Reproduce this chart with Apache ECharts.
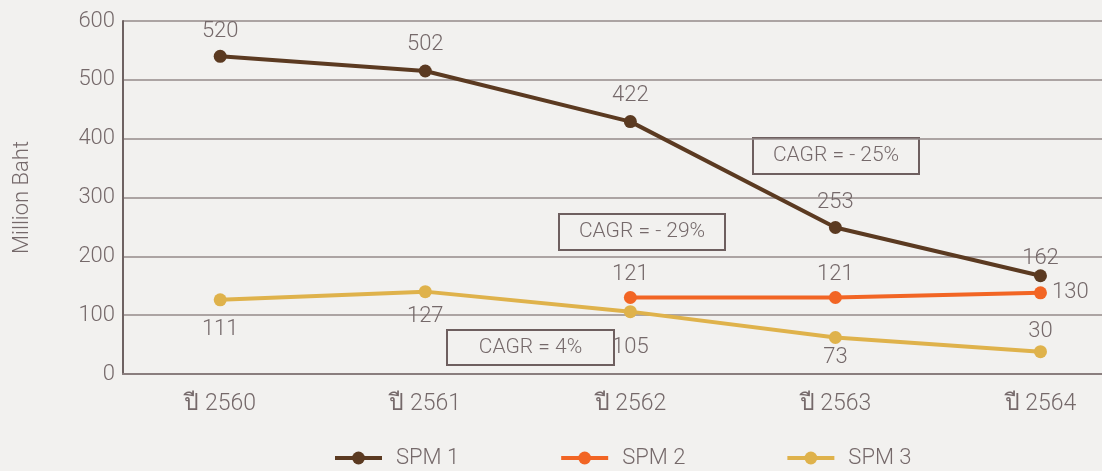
<!DOCTYPE html>
<html>
<head>
<meta charset="utf-8">
<script src="https://cdn.jsdelivr.net/npm/echarts@6/dist/echarts.min.js"></script>
<style>
  html, body { margin: 0; padding: 0; background: #f2f1ef; }
  #chart { width: 1102px; height: 471px; }
</style>
</head>
<body>
<div id="chart"></div>
<script>
// 年份
const years = ['ปี 2560', 'ปี 2561', 'ปี 2562', 'ปี 2563', 'ปี 2564']
const seriesNames = ['SPM 1', 'SPM 2', 'SPM 3']

// plotted values (read from point positions)
const spm1 = [540, 515, 429, 249, 167]
const spm2 = [null, null, 130, 130, 138]
const spm3 = [126, 140, 106, 62, 38]

// printed labels
const spm1Labels = ['520', '502', '422', '253', '162']
const spm2Labels = ['', '', '121', '121', '130']
const spm3Labels = ['111', '127', '105', '73', '30']

const yTicks = [0, 100, 200, 300, 400, 500, 600]

const txt = '#75696a'
const font = 'Roboto, "Noto Sans", "DejaVu Sans", sans-serif'
const colors = ['#5b3a21', '#f26524', '#dfb24b']

function points(vals, labels, placement) {
  return vals.map((v, i) => ({
    value: [i, v],
    label: Object.assign({ formatter: labels[i] }, placement[i])
  }))
}

const chart = echarts.init(document.getElementById('chart'))

function cagrBox(x, y, w, h, text) {
  return {
    type: 'group', left: x, top: y,
    children: [
      { type: 'rect', shape: { x: 0, y: 0, width: w, height: h },
        style: { fill: 'transparent', stroke: '#6e5f5f', lineWidth: 2 } },
      { type: 'text', x: w / 2, y: h / 2,
        style: { text: text, fill: txt, font: '300 21px ' + font, align: 'center', verticalAlign: 'middle' } }
    ]
  }
}

const lbl = { show: true, color: txt, fontSize: 22, fontWeight: 300 }

chart.setOption({
  backgroundColor: '#f2f1ef',
  animation: false,
  color: colors,
  textStyle: { fontFamily: font },
  grid: { left: 123, right: 0, top: 21, bottom: 97 },
  legend: {
    bottom: -3,
    left: 328,
    itemWidth: 47,
    itemHeight: 16,
    itemGap: 100,
    lineStyle: { width: 4 },
    textStyle: { color: txt, fontSize: 22, fontWeight: 300, fontFamily: font, padding: [0, 0, 0, 9] },
    data: seriesNames
  },
  xAxis: {
    type: 'value',
    min: -0.474,
    max: 4.3,
    splitLine: { show: false },
    axisTick: { show: false },
    axisLine: { show: true, onZero: false, lineStyle: { color: '#8a7e7e', width: 2 } },
    axisLabel: {
      customValues: [0, 1, 2, 3, 4],
      formatter: v => years[Math.round(v)],
      color: txt, fontSize: 23, fontWeight: 300, margin: 19
    }
  },
  yAxis: {
    type: 'value',
    min: 0, max: 600, interval: 100,
    name: 'Million Baht',
    nameLocation: 'middle',
    nameGap: 90,
    nameTextStyle: { color: txt, fontSize: 22, fontWeight: 300 },
    axisLine: { show: true, onZero: false, lineStyle: { color: '#6e6262', width: 2 } },
    axisTick: { show: false },
    axisLabel: { color: txt, fontSize: 22, fontWeight: 300, margin: 8,
      customValues: yTicks },
    splitLine: { lineStyle: { color: '#958a8a', width: 1.5 } }
  },
  series: [
    {
      name: seriesNames[0], type: 'line', symbol: 'circle', symbolSize: 13,
      lineStyle: { width: 4 },
      label: lbl,
      data: points(spm1, spm1Labels, [
        { position: 'top', distance: 7 }, { position: 'top', distance: 9 },
        { position: 'top', distance: 9 }, { position: 'top', distance: 8 },
        { position: 'top', distance: 0 }
      ])
    },
    {
      name: seriesNames[1], type: 'line', symbol: 'circle', symbolSize: 13,
      lineStyle: { width: 4 },
      label: lbl,
      data: points(spm2, spm2Labels, [
        {}, {}, { position: 'top', distance: 6 }, { position: 'top', distance: 6 },
        { position: 'right', distance: 5 }
      ])
    },
    {
      name: seriesNames[2], type: 'line', symbol: 'circle', symbolSize: 13,
      lineStyle: { width: 4 },
      label: lbl,
      data: points(spm3, spm3Labels, [
        { position: 'bottom', distance: 12 }, { position: 'bottom', distance: 7 },
        { position: 'bottom', distance: 18 }, { position: 'bottom', distance: 2 },
        { position: 'top', distance: 3 }
      ])
    }
  ],
  graphic: [
    cagrBox(752, 137, 166, 36, 'CAGR = - 25%'),
    cagrBox(558, 213, 166, 36, 'CAGR = - 29%'),
    cagrBox(446, 329, 167, 35, 'CAGR = 4%')
  ]
})
</script>
</body>
</html>
